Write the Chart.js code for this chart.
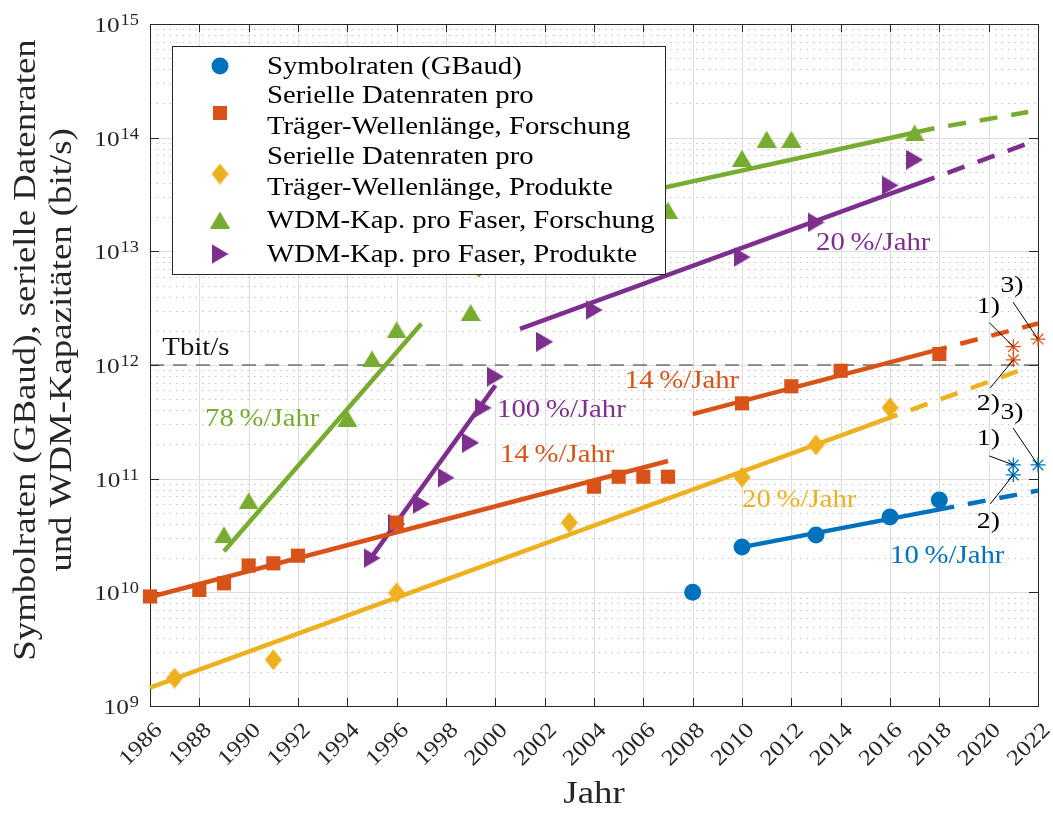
<!DOCTYPE html>
<html>
<head>
<meta charset="utf-8">
<script src="https://cdn.jsdelivr.net/npm/chart.js@4/dist/chart.umd.min.js"></script>
<style>
  html, body { margin: 0; padding: 0; background: #fff; }
  canvas { display: block; }
</style>
</head>
<body>
<canvas id="c" width="1053" height="813"></canvas>
<script>
// ---- measured values ----
const symbolYears = [2008, 2010, 2013, 2016, 2018];
const symbolGBaud = [1.0e10, 2.5e10, 3.2e10, 4.6e10, 6.5e10];

const serialResearchYears = [1986, 1988, 1989, 1990, 1991, 1992, 1996, 2004, 2005, 2006, 2007, 2010, 2012, 2014, 2018];
const serialResearchRates = [9.2e9, 1.05e10, 1.2e10, 1.72e10, 1.8e10, 2.1e10, 4.1e10, 8.5e10, 1.04e11, 1.04e11, 1.04e11, 4.6e11, 6.5e11, 8.9e11, 1.25e12];

const serialProductYears = [1987, 1991, 1996, 2003, 2010, 2013, 2016];
const serialProductRates = [1.76e9, 2.55e9, 9.9e9, 4.1e10, 1.03e11, 1.98e11, 4.2e11];

const wdmResearchYears = [1989, 1990, 1994, 1995, 1996, 1999, 2007, 2010, 2011, 2012, 2017];
const wdmResearchCaps = [3.2e10, 6.4e10, 3.4e11, 1.13e12, 2.04e12, 2.9e12, 2.3e13, 6.6e13, 9.7e13, 9.7e13, 1.1e14];

const wdmProductYears = [1995, 1996, 1997, 1998, 1999, 1999.5, 2000, 2002, 2004, 2010, 2013, 2016, 2017];
const wdmProductCaps = [2.0e10, 4.0e10, 6.0e10, 1.02e11, 2.07e11, 4.2e11, 7.9e11, 1.6e12, 3.05e12, 8.9e12, 1.8e13, 3.8e13, 6.4e13];

// outlook points 1), 2), 3)
const noteTags = ['1)', '2)', '3)'];
const symbolNoteYears = [2021, 2021, 2022];
const symbolNoteVals = [1.32e11, 1.08e11, 1.32e11];
const serialNoteYears = [2021, 2021, 2022];
const serialNoteVals = [1.45e12, 1.11e12, 1.69e12];

// trend lines (start/end), solid part and dashed outlook
const trendSymbolYears = [2010, 2018.6];      const trendSymbolVals = [2.5e10, 5.68e10];
const outlookSymbolYears = [2018.6, 2022];    const outlookSymbolVals = [5.68e10, 7.85e10];
const trendSerResAYears = [1986, 2007];       const trendSerResAVals = [9.1e9, 1.43e11];
const trendSerResBYears = [2008, 2018.3];     const trendSerResBVals = [3.7e11, 1.43e12];
const outlookSerResYears = [2018.3, 2022];    const outlookSerResVals = [1.43e12, 2.32e12];
const trendSerProdYears = [1986, 2016.3];     const trendSerProdVals = [1.45e9, 3.64e11];
const outlookSerProdYears = [2016.3, 2021.7]; const outlookSerProdVals = [3.64e11, 9.7e11];
const trendWdmResAYears = [1989, 1997];       const trendWdmResAVals = [2.3e10, 2.31e12];
const bridgeWdmResYears = [1998.9, 2001.4];   const bridgeWdmResVals = [4.9e12, 2.0e13];
const trendWdmResBYears = [2001.4, 2017.8];   const trendWdmResBVals = [2.0e13, 1.21e14];
const outlookWdmResYears = [2017.8, 2021.6];  const outlookWdmResVals = [1.21e14, 1.68e14];
const trendWdmProdAYears = [1994.9, 2000];    const trendWdmProdAVals = [1.93e10, 6.6e11];
const trendWdmProdBYears = [2001, 2017.8];    const trendWdmProdBVals = [2.08e12, 4.45e13];
const outlookWdmProdYears = [2017.8, 2022];   const outlookWdmProdVals = [4.45e13, 9.57e13];

const terabitYears = [1986, 2022];
const terabitVals = [1e12, 1e12];

// axis ticks
const yearTicks = [1986, 1988, 1990, 1992, 1994, 1996, 1998, 2000, 2002, 2004, 2006, 2008, 2010, 2012, 2014, 2016, 2018, 2020, 2022];
const decadeExponents = [9, 10, 11, 12, 13, 14, 15];

// texts
const legendEntries = [
  ['Symbolraten (GBaud)'],
  ['Serielle Datenraten pro', 'Träger-Wellenlänge, Forschung'],
  ['Serielle Datenraten pro', 'Träger-Wellenlänge, Produkte'],
  ['WDM-Kap. pro Faser, Forschung'],
  ['WDM-Kap. pro Faser, Produkte']
];
const yTitle = ['Symbolraten (GBaud), serielle Datenraten', 'und WDM-Kapazitäten (bit/s)'];
const xTitle = 'Jahr';
const rateTexts  = ['78\u2009%/Jahr', '100\u2009%/Jahr', '14\u2009%/Jahr', '14\u2009%/Jahr', '20\u2009%/Jahr', '20\u2009%/Jahr', '10\u2009%/Jahr', 'Tbit/s'];
const rateYears  = [1988.23, 2000.07, 2000.19, 2005.25, 2013.0, 2010.0, 2016.0, 1986.5];
const rateVals   = [3.42e11, 4.1e11, 1.65e11, 7.4e11, 1.21e13, 6.6e10, 2.13e10, 1.45e12];

// ---- styling ----
const C = {
  blue: '#0072BD', orange: '#D95319', yellow: '#EDB120', purple: '#7E2F8E', green: '#77AC30',
  axis: '#262626'
};
const rateColors = [C.green, C.purple, C.orange, C.orange, C.purple, C.yellow, C.blue, '#111'];
const SERIF = '"Liberation Serif", "Times New Roman", serif';
const SX = 1.15;

function makeMarker(w, h, color, shape) {
  const cv = document.createElement('canvas');
  cv.width = w; cv.height = h;
  const g = cv.getContext('2d');
  g.fillStyle = color;
  g.beginPath();
  if (shape === 'diamond') { g.moveTo(w / 2, 0); g.lineTo(w, h / 2); g.lineTo(w / 2, h); g.lineTo(0, h / 2); }
  else if (shape === 'up') { g.moveTo(w / 2, 0); g.lineTo(w, h); g.lineTo(0, h); }
  else if (shape === 'right') { g.moveTo(0, 0); g.lineTo(w, h / 2); g.lineTo(0, h); }
  g.closePath();
  g.fill();
  return cv;
}
const diamondImg = makeMarker(17, 21, C.yellow, 'diamond');
const triUpImg = makeMarker(20, 17, C.green, 'up');
const triRightImg = makeMarker(17, 20, C.purple, 'right');

const pts = (xs, ys) => xs.map((x, i) => ({ x, y: ys[i] }));

function markers(xs, ys, color, style, radius) {
  return { data: pts(xs, ys), showLine: false, pointStyle: style, pointRadius: radius,
           backgroundColor: color, borderColor: color, borderWidth: 0, clip: false };
}
function stars(xs, ys, color) {
  return { data: pts(xs, ys), showLine: false, pointStyle: 'star', pointRadius: 7.5,
           backgroundColor: 'rgba(0,0,0,0)', borderColor: color, borderWidth: 1.3, clip: false };
}
function trend(xs, ys, color, dashed) {
  return { data: pts(xs, ys), showLine: true, pointRadius: 0, borderColor: color, borderWidth: 4.5,
           borderDash: dashed ? [18, 14] : [], borderDashOffset: dashed ? 18 : 0,
           fill: false, tension: 0, clip: false };
}

const datasets = [
  stars(symbolNoteYears, symbolNoteVals, C.blue),
  stars(serialNoteYears, serialNoteVals, C.orange),
  markers(symbolYears, symbolGBaud, C.blue, 'circle', 8.5),
  markers(serialResearchYears, serialResearchRates, C.orange, 'rect', 10),
  markers(serialProductYears, serialProductRates, C.yellow, diamondImg, 10),
  markers(wdmResearchYears, wdmResearchCaps, C.green, triUpImg, 10),
  markers(wdmProductYears, wdmProductCaps, C.purple, triRightImg, 10),
  trend(trendSymbolYears, trendSymbolVals, C.blue, false),
  trend(outlookSymbolYears, outlookSymbolVals, C.blue, true),
  trend(trendSerResAYears, trendSerResAVals, C.orange, false),
  trend(trendSerResBYears, trendSerResBVals, C.orange, false),
  trend(outlookSerResYears, outlookSerResVals, C.orange, true),
  trend(trendSerProdYears, trendSerProdVals, C.yellow, false),
  trend(outlookSerProdYears, outlookSerProdVals, C.yellow, true),
  trend(trendWdmResAYears, trendWdmResAVals, C.green, false),
  trend(bridgeWdmResYears, bridgeWdmResVals, C.green, true),
  trend(trendWdmResBYears, trendWdmResBVals, C.green, false),
  trend(outlookWdmResYears, outlookWdmResVals, C.green, true),
  trend(trendWdmProdAYears, trendWdmProdAVals, C.purple, false),
  trend(trendWdmProdBYears, trendWdmProdBVals, C.purple, false),
  trend(outlookWdmProdYears, outlookWdmProdVals, C.purple, true),
  { data: pts(terabitYears, terabitVals), showLine: true, pointRadius: 0, borderColor: '#333',
    borderWidth: 1.2, borderDash: [14, 9], fill: false }
];

function drawText(ctx, str, x, y, size, color, o = {}) {
  ctx.save();
  ctx.translate(x, y);
  if (o.rot) ctx.rotate(o.rot);
  ctx.scale(SX, 1);
  ctx.font = size + 'px ' + SERIF;
  ctx.fillStyle = color;
  ctx.textAlign = o.align || 'left';
  ctx.textBaseline = o.baseline || 'alphabetic';
  ctx.fillText(str, 0, 0);
  ctx.restore();
}
function textWidth(ctx, str, size) {
  ctx.save();
  ctx.font = size + 'px ' + SERIF;
  const w = ctx.measureText(str).width * SX;
  ctx.restore();
  return w;
}
function seg(ctx, x1, y1, x2, y2) {
  ctx.beginPath(); ctx.moveTo(x1, y1); ctx.lineTo(x2, y2); ctx.stroke();
}

// grid, box and ticks underneath the data
const axesFrame = {
  id: 'axesFrame',
  beforeDatasetsDraw(chart) {
    const { ctx, chartArea: a, scales: { x, y } } = chart;
    ctx.save();
    ctx.lineWidth = 1;
    // minor log grid (dotted)
    ctx.strokeStyle = '#c4c4c4';
    ctx.setLineDash([1.5, 5]);
    for (let e = 9; e < 15; e++) {
      for (let m = 2; m <= 9; m++) {
        const py = Math.round(y.getPixelForValue(m * Math.pow(10, e))) + 0.5;
        seg(ctx, a.left, py, a.right, py);
      }
    }
    // major grid
    ctx.setLineDash([]);
    ctx.strokeStyle = '#dddddd';
    for (const e of decadeExponents) {
      const py = Math.round(y.getPixelForValue(Math.pow(10, e))) + 0.5;
      seg(ctx, a.left, py, a.right, py);
    }
    for (const yr of yearTicks) {
      const px = Math.round(x.getPixelForValue(yr)) + 0.5;
      seg(ctx, px, a.top, px, a.bottom);
    }
    // box
    ctx.strokeStyle = C.axis;
    ctx.strokeRect(Math.round(a.left) + 0.5, Math.round(a.top) + 0.5,
                   Math.round(a.right - a.left), Math.round(a.bottom - a.top));
    // inward ticks
    for (const yr of yearTicks) {
      const px = Math.round(x.getPixelForValue(yr)) + 0.5;
      seg(ctx, px, a.bottom, px, a.bottom - 8);
      seg(ctx, px, a.top, px, a.top + 8);
    }
    for (const e of decadeExponents) {
      const py = Math.round(y.getPixelForValue(Math.pow(10, e))) + 0.5;
      seg(ctx, a.left, py, a.left + 9, py);
      seg(ctx, a.right, py, a.right - 9, py);
    }
    ctx.restore();
  }
};

// labels, notes and legend above the data
const overlay = {
  id: 'overlay',
  afterDatasetsDraw(chart) {
    const { ctx, chartArea: a, scales: { x, y } } = chart;
    ctx.save();

    // y tick labels 10^n
    for (const e of decadeExponents) {
      const py = y.getPixelForValue(Math.pow(10, e));
      const sup = String(e);
      const supW = textWidth(ctx, sup, 16);
      drawText(ctx, sup, 139, py + 1, 16, C.axis, { align: 'right' });
      drawText(ctx, '10', 139 - supW - 1, py + 8, 22, C.axis, { align: 'right' });
    }
    // x tick labels, rotated
    for (const yr of yearTicks) {
      const px = x.getPixelForValue(yr);
      drawText(ctx, String(yr), px + 9, a.bottom + 21, 22, C.axis,
               { rot: -Math.PI / 4, align: 'right', baseline: 'middle' });
    }
    // axis titles
    drawText(ctx, yTitle[0], 27, 350, 32, C.axis, { rot: -Math.PI / 2, align: 'center', baseline: 'middle' });
    drawText(ctx, yTitle[1], 63, 350, 32, C.axis, { rot: -Math.PI / 2, align: 'center', baseline: 'middle' });
    drawText(ctx, xTitle, 594, 803, 32, C.axis, { align: 'center' });

    // growth-rate labels
    rateTexts.forEach((t, i) => {
      const px = x.getPixelForValue(rateYears[i]);
      const py = y.getPixelForValue(rateVals[i]);
      drawText(ctx, t, px, py + 8, 25, rateColors[i]);
    });

    // notes 1) 2) 3) with leader lines
    const noteLayout = [
      { lx: -25, ly: -42, sx: -24, sy: -24 },
      { lx: -25, ly: 42, sx: -23, sy: 28 },
      { lx: -26, ly: -55, sx: -25, sy: -37 }
    ];
    const blueLayout = [
      { lx: -25, ly: -28, sx: -24, sy: -9 },
      { lx: -25, ly: 45, sx: -23, sy: 29 },
      { lx: -26, ly: -54, sx: -25, sy: -37 }
    ];
    ctx.strokeStyle = '#000';
    ctx.lineWidth = 1;
    const drawNotes = (ys, vs, layout) => {
      ys.forEach((yr, i) => {
        const px = x.getPixelForValue(yr);
        const py = y.getPixelForValue(vs[i]);
        const L = layout[i];
        seg(ctx, px + L.sx, py + L.sy, px, py);
        drawText(ctx, noteTags[i], px + L.lx, py + L.ly + 8, 24, '#000', { align: 'center' });
      });
    };
    drawNotes(serialNoteYears, serialNoteVals, noteLayout);
    drawNotes(symbolNoteYears, symbolNoteVals, blueLayout);

    // legend
    const bx = 172, by = 46, bw = 493, bh = 228;
    ctx.fillStyle = '#fff';
    ctx.fillRect(bx, by, bw, bh);
    ctx.strokeStyle = C.axis;
    ctx.strokeRect(bx + 0.5, by + 0.5, bw, bh);
    const markerY = [66, 113, 174, 220, 254];
    const lineY = [[66], [95, 126], [156, 187], [220], [254]];
    const mx = 220;
    // markers
    ctx.fillStyle = C.blue;
    ctx.beginPath(); ctx.arc(mx, markerY[0], 8.5, 0, Math.PI * 2); ctx.fill();
    ctx.fillStyle = C.orange;
    ctx.fillRect(mx - 7, markerY[1] - 7, 14, 14);
    ctx.drawImage(diamondImg, mx - diamondImg.width / 2, markerY[2] - diamondImg.height / 2);
    ctx.drawImage(triUpImg, mx - triUpImg.width / 2, markerY[3] - triUpImg.height / 2);
    ctx.drawImage(triRightImg, mx - triRightImg.width / 2, markerY[4] - triRightImg.height / 2);
    legendEntries.forEach((lines, i) => {
      lines.forEach((t, j) => drawText(ctx, t, 267, lineY[i][j] + 8, 25, '#000'));
    });

    ctx.restore();
  }
};

new Chart(document.getElementById('c'), {
  type: 'scatter',
  data: { datasets },
  options: {
    responsive: false,
    animation: false,
    events: [],
    layout: { padding: { top: 24, right: 15, left: 0, bottom: 0 } },
    plugins: { legend: { display: false }, tooltip: { enabled: false } },
    scales: {
      x: {
        type: 'linear', min: 1986, max: 2022,
        grid: { display: false }, border: { display: false }, ticks: { display: false },
        afterFit(s) { s.height = 107; }
      },
      y: {
        type: 'logarithmic', min: 1e9, max: 1e15,
        grid: { display: false }, border: { display: false }, ticks: { display: false },
        afterFit(s) { s.width = 150; }
      }
    }
  },
  plugins: [axesFrame, overlay]
});
</script>
</body>
</html>
